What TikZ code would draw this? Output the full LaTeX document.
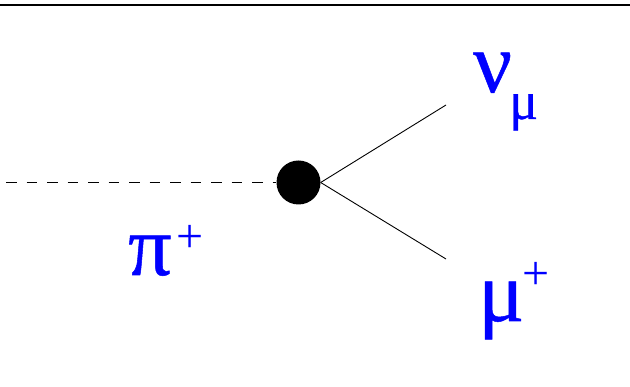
\documentclass[tikz,border=0pt]{standalone}
\usepackage{fontspec}
\setmainfont{Liberation Serif}
\newfontfamily\heavygreek{Liberation Serif}[FakeBold=0.6]
\definecolor{lblue}{RGB}{0,0,255}
\tikzset{
  lbl/.style={text=lblue, inner sep=0pt, anchor=base west, font=\heavygreek\fontsize{86}{90}\selectfont},
  sub/.style={text=lblue, inner sep=0pt, anchor=base west, font=\heavygreek\fontsize{54}{58}\selectfont},
  sup/.style={text=lblue, inner sep=0pt, anchor=base west, font=\fontsize{48}{52}\selectfont},
  prop/.style={line width=0.9pt, black},
}
\begin{document}
\begin{tikzpicture}[x=1pt,y=-1pt]
\useasboundingbox (0,0) rectangle (630,387);
\coordinate (tl) at (0,5);
\coordinate (tr) at (630,5);
\draw[line width=1.3pt] (tl) -- (tr);
\coordinate (pstart) at (6,182.5);
\node[circle, fill=black, minimum size=44pt, inner sep=0pt] (v) at (298.5,182.5) {};
\coordinate (nuend) at (446,105);
\coordinate (muend) at (446,259);
\draw[prop, dash pattern=on 10.5pt off 10pt] (pstart) -- (v.west);
\draw[prop] (v.east) -- (nuend);
\draw[prop] (v.east) -- (muend);
\node[lbl] (nu) at (473,92) {ν};
\node[sub] (nusub) at (509,119) {μ};
\node[lbl] (mu) at (478,321) {μ};
\node[sup] (muplus) at (522,290) {+};
\node[lbl] (pi) at (128,275) {π};
\node[sup] (piplus) at (176,253) {+};
\end{tikzpicture}
\end{document}
